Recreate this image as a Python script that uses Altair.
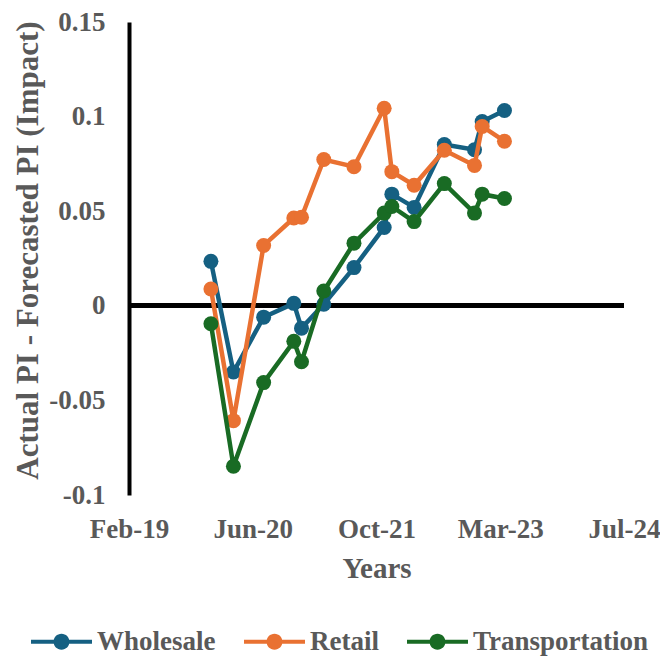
import altair as alt
import pandas as pd

dates = ["2020-01-01", "2020-04-01", "2020-08-01", "2020-12-01", "2021-01-01",
         "2021-04-01", "2021-08-01", "2021-12-01", "2022-01-01", "2022-04-01",
         "2022-08-01", "2022-12-01", "2023-01-01", "2023-04-01"]
wholesale = [0.0235, -0.035, -0.006, 0.0013, -0.0118, 0.0008, 0.0202, 0.0414,
             0.059, 0.052, 0.0852, 0.0825, 0.0974, 0.1032]
retail = [0.0089, -0.0607, 0.0319, 0.0464, 0.0468, 0.0773, 0.0735, 0.1044,
          0.0709, 0.0637, 0.0822, 0.0742, 0.0948, 0.0870]
transportation = [-0.0095, -0.0848, -0.0406, -0.0188, -0.0296, 0.0078, 0.0331,
                  0.049, 0.0525, 0.0445, 0.0646, 0.049, 0.059, 0.0567]
series_names = ["Wholesale", "Retail", "Transportation"]
series_colors = ["#156082", "#E97132", "#196B24"]
y_ticks = [-0.1, -0.05, 0, 0.05, 0.1, 0.15]

rows = []
for name, vals in zip(series_names, [wholesale, retail, transportation]):
    for d, v in zip(dates, vals):
        rows.append({"date": d, "value": v, "series": name})
df = pd.DataFrame(rows)

FONT = "Liberation Serif"
GRAY = "#595959"

x_enc = alt.X(
    "date:T",
    scale=alt.Scale(
        type="utc",
        domain=[alt.DateTime(year=2019, month=2, date=4, utc=True),
                alt.DateTime(year=2024, month=7, date=27, utc=True)],
    ),
    axis=alt.Axis(
        values=[alt.DateTime(year=2019, month=2, date=4, utc=True),
                alt.DateTime(year=2020, month=6, date=18, utc=True),
                alt.DateTime(year=2021, month=10, date=31, utc=True),
                alt.DateTime(year=2023, month=3, date=15, utc=True),
                alt.DateTime(year=2024, month=7, date=27, utc=True)],
        labelExpr="utcFormat(datum.value, '%b-%y')",
        labelFlush=False, labelOverlap=False, labelBound=False,
        domain=False, ticks=False, tickSize=0, grid=False,
        labelPadding=21, title="Years", titlePadding=12,
    ),
)
y_enc = alt.Y(
    "value:Q",
    scale=alt.Scale(domain=[-0.1, 0.15], nice=False, zero=False),
    axis=alt.Axis(
        values=y_ticks,
        labelExpr="'' + datum.value",
        labelFlush=False, labelOverlap=False, labelBound=False,
        domain=True, domainColor="black", domainWidth=4,
        ticks=False, tickSize=0, grid=False,
        labelPadding=24, title="Actual PI  - Forecasted  PI (Impact)",
        titlePadding=4, titleFontSize=31, titleY=228,
    ),
)

legend_path = ("M-1,-0.066L-0.25,-0.066L-0.25,0.066L-1,0.066Z "
               "M0.25,-0.066L1,-0.066L1,0.066L0.25,0.066Z "
               "M0.262,0A0.262,0.262,0,1,1,-0.262,0A0.262,0.262,0,1,1,0.262,0Z")

color_scale = alt.Scale(domain=series_names, range=series_colors)
legend = alt.Legend(
    title=None, orient="none", direction="horizontal",
    legendX=-98, legendY=589,
    symbolType=legend_path, symbolSize=3721,
    symbolStrokeWidth=0, symbolOpacity=1,
    labelFont=FONT, labelFontSize=27, labelFontWeight="bold",
    labelColor=GRAY, labelOffset=5, columnPadding=28,
    labelLimit=400,
)

layers = []
for name, col in zip(series_names, series_colors):
    base = alt.Chart(df).transform_filter(alt.datum.series == name)
    line = base.mark_line(strokeWidth=4.5, color=col).encode(x=x_enc, y=y_enc)
    pts = base.mark_circle(size=225, opacity=1).encode(
        x=x_enc, y=y_enc,
        color=alt.Color("series:N", scale=color_scale, legend=legend),
    )
    layers += [line, pts]

zero = alt.Chart(df).mark_rule(color="black", strokeWidth=4).encode(y=alt.datum(0))

chart = alt.layer(zero, *layers).properties(
    width=495, height=473,
    autosize=alt.AutoSizeParams(type="none"),
    padding={"left": 121, "top": 14, "right": 36, "bottom": 161},
).configure_view(stroke=None).configure_axis(
    labelFont=FONT, labelFontSize=27, labelFontWeight="bold", labelColor=GRAY,
    titleFont=FONT, titleFontSize=29, titleFontWeight="bold", titleColor=GRAY,
)

chart.save("out.html", embed_options={"renderer": "svg", "actions": False})
